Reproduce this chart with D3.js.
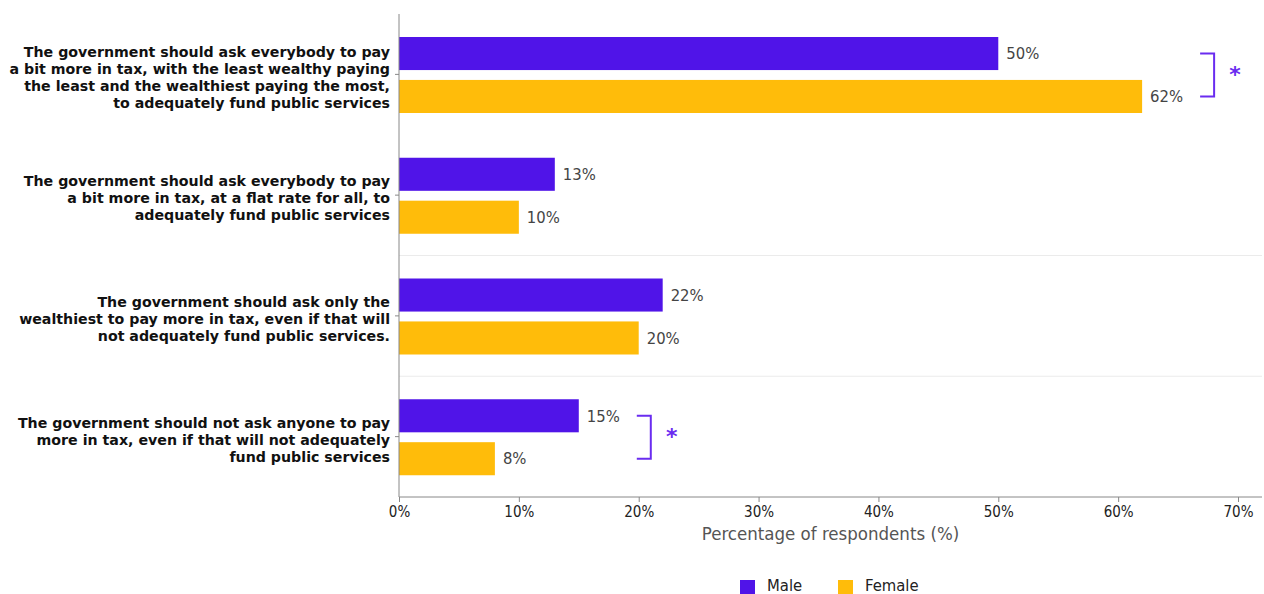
<!DOCTYPE html>
<html>
<head>
<meta charset="utf-8">
<style>
  body { margin: 0; background: #fff; }
  svg { display: block; }
  .cat { font-family: "DejaVu Sans", sans-serif; font-weight: bold; font-size: 14.2px; fill: #111; }
  .tick text { font-family: "DejaVu Sans Condensed", "DejaVu Sans", sans-serif; font-size: 15px; fill: #222; }
  .val { font-family: "DejaVu Sans Condensed", "DejaVu Sans", sans-serif; font-size: 16.5px; fill: #444; }
  .xlabel { font-family: "DejaVu Sans Condensed", "DejaVu Sans", sans-serif; font-size: 18.5px; fill: #555; }
  .leg { font-family: "DejaVu Sans Condensed", "DejaVu Sans", sans-serif; font-size: 16.5px; fill: #222; }
</style>
</head>
<body>
<svg width="1264" height="594"></svg>
<script src="https://d3js.org/d3.v7.min.js"></script>
<script>
// statements, each split into its display lines
const categories = [
  ["The government should ask everybody to pay", "a bit more in tax, with the least wealthy paying", "the least and the wealthiest paying the most,", "to adequately fund public services"],
  ["The government should ask everybody to pay", "a bit more in tax, at a flat rate for all, to", "adequately fund public services"],
  ["The government should ask only the", "wealthiest to pay more in tax, even if that will", "not adequately fund public services."],
  ["The government should not ask anyone to pay", "more in tax, even if that will not adequately", "fund public services"]
]
const series = ["Male", "Female"]
const maleValues = [50, 13, 22, 15]
const femaleValues = [62, 10, 20, 8]
const significant = [true, false, false, true]
const xTicks = [0, 10, 20, 30, 40, 50, 60, 70]

const colors = { Male: "#5014e8", Female: "#ffbc0a" }
const purple = "#6a2cf0"

const svg = d3.select("svg")
const margin = { left: 399, right: 2, top: 14, bottom: 97 }
const width = 1264 - margin.left - margin.right
const height = 594 - margin.top - margin.bottom

const g = svg.append("g").attr("transform", `translate(${margin.left},${margin.top})`)

const x = d3.scaleLinear().domain([0, 70]).range([0, 839])
const y = d3.scaleBand().domain(d3.range(categories.length)).range([0, height])
const inner = d3.scaleBand().domain(series).range([23, 99]).paddingInner(0.23)

// faint separators between groups
g.selectAll("line.sep")
  .data([2, 3])
  .join("line")
  .attr("x1", 0).attr("x2", width)
  .attr("y1", d => y(d)).attr("y2", d => y(d))
  .attr("stroke", "#ebebeb").attr("stroke-width", 1)

const rows = categories.map((c, i) => ({ i, Male: maleValues[i], Female: femaleValues[i] }))

const grp = g.selectAll("g.grp").data(rows).join("g")
  .attr("class", "grp")
  .attr("transform", d => `translate(0,${y(d.i)})`)

grp.selectAll("rect")
  .data(d => series.map(s => ({ s, v: d[s] })))
  .join("rect")
  .attr("x", 0)
  .attr("y", d => inner(d.s))
  .attr("width", d => x(d.v))
  .attr("height", inner.bandwidth())
  .attr("fill", d => colors[d.s])

grp.selectAll("text.val")
  .data(d => series.map(s => ({ s, v: d[s] })))
  .join("text")
  .attr("class", "val")
  .attr("x", d => x(d.v) + 8)
  .attr("y", d => inner(d.s) + inner.bandwidth() / 2)
  .attr("dy", "0.35em")
  .text(d => d.v + "%")

// significance brackets
grp.filter(d => significant[d.i]).each(function(d) {
  const sel = d3.select(this)
  const x0 = x(Math.max(d.Male, d.Female)) + 58
  const y1 = inner("Male") + inner.bandwidth() / 2
  const y2 = inner("Female") + inner.bandwidth() / 2
  sel.append("path")
    .attr("d", `M${x0},${y1}H${x0 + 14}V${y2}H${x0}`)
    .attr("fill", "none").attr("stroke", purple).attr("stroke-width", 2)
  sel.append("text")
    .attr("x", x0 + 35).attr("y", (y1 + y2) / 2 + 7)
    .attr("text-anchor", "middle")
    .attr("font-family", "DejaVu Sans, sans-serif")
    .attr("font-size", 22).attr("font-weight", "bold")
    .attr("fill", purple)
    .text("*")
})

// y axis
const yAxis = g.append("g").call(d3.axisLeft(y).tickSize(4).tickFormat(""))
yAxis.select(".domain").attr("stroke", "#888").attr("d", `M0,0V${height}`)
yAxis.selectAll(".tick line").attr("stroke", "#888")

g.selectAll("text.cat")
  .data(categories)
  .join("text")
  .attr("class", "cat")
  .attr("text-anchor", "end")
  .attr("x", -9)
  .attr("y", (d, i) => y(i) + y.bandwidth() / 2 + 3 - (d.length - 1) * 17 / 2)
  .selectAll("tspan")
  .data(d => d)
  .join("tspan")
  .attr("x", -9)
  .attr("dy", (d, i) => i === 0 ? "0.35em" : "17px")
  .text(d => d)

// x axis
const xAxis = g.append("g")
  .attr("transform", `translate(0,${height})`)
  .call(d3.axisBottom(x).tickValues(xTicks).tickSize(5).tickPadding(4).tickFormat(d => d + "%"))
xAxis.select(".domain").attr("stroke", "#888").attr("d", `M0,0H${width}`)
xAxis.selectAll(".tick line").attr("stroke", "#888")

g.append("text")
  .attr("class", "xlabel")
  .attr("x", x(36))
  .attr("y", height + 43)
  .attr("text-anchor", "middle")
  .text("Percentage of respondents (%)")

// legend
const legend = svg.append("g").attr("transform", "translate(740,586)")
const legItems = [{ s: "Male", dx: 0 }, { s: "Female", dx: 98 }]
legend.selectAll("rect")
  .data(legItems).join("rect")
  .attr("x", d => d.dx).attr("y", -6)
  .attr("width", 15).attr("height", 14)
  .attr("fill", d => colors[d.s])
legend.selectAll("text")
  .data(legItems).join("text")
  .attr("class", "leg")
  .attr("x", d => d.dx + 27).attr("y", -1)
  .attr("dy", "0.35em")
  .text(d => d.s)
</script>
</body>
</html>
